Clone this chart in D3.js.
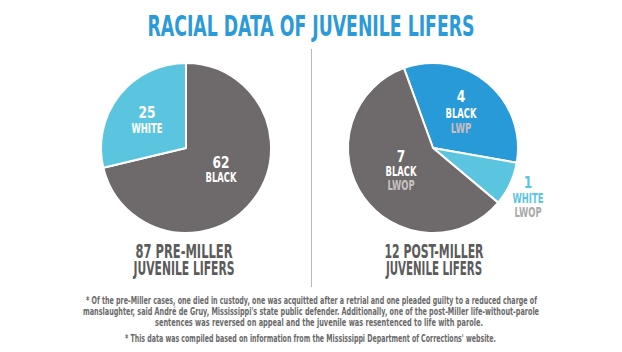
<!DOCTYPE html>
<html>
<head>
<meta charset="utf-8">
<script src="https://cdn.jsdelivr.net/npm/d3@7"></script>
<style>
  html, body { margin: 0; padding: 0; background: #fff; }
  svg { display: block; }
  text { font-family: "Liberation Sans Narrow", "DejaVu Sans Condensed", "Roboto Condensed", sans-serif; font-weight: bold; }
</style>
</head>
<body>
<svg id="chart" width="622" height="352"></svg>
<script>
const title = "RACIAL DATA OF JUVENILE LIFERS";

const preCategories = ["BLACK", "WHITE"];
const preValues = [62, 25];
const preSubLabels = ["", ""];

const postCategories = ["BLACK", "WHITE", "BLACK"];
const postValues = [4, 1, 7];
const postSubLabels = ["LWP", "LWOP", "LWOP"];

const panelLabels = [["87 PRE-MILLER", "JUVENILE LIFERS"], ["12 POST-MILLER", "JUVENILE LIFERS"]];

const footnotes = [
  "* Of the pre-Miller cases, one died in custody, one was acquitted after a retrial and one pleaded guilty to a reduced charge of",
  "manslaughter, said André de Gruy, Mississippi's state public defender. Additionally, one of the post-Miller life-without-parole",
  "sentences was reversed on appeal and the juvenile was resentenced to life with parole.",
  "* This data was compiled based on information from the Mississippi Department of Corrections' website."
];

const svg = d3.select("#chart");
const GRAY = "#6e696a", LIGHT = "#5bc5e0", BLUE = "#289ad7";

function fitText(x, y, str, size, fill, width, weight) {
  const t = svg.append("text")
    .attr("x", x).attr("y", y)
    .attr("text-anchor", "middle")
    .attr("font-size", size)
    .attr("fill", fill)
    .text(str);
  if (weight) t.attr("font-weight", weight);
  if (width) t.attr("textLength", width).attr("lengthAdjust", "spacingAndGlyphs");
  return t;
}

// Title
fitText(311, 36, title, 28, "#2b9ad8", 327);

// Divider
svg.append("line")
  .attr("x1", 311.5).attr("x2", 311.5).attr("y1", 49).attr("y2", 287)
  .attr("stroke", "#b8b8b8").attr("stroke-width", 1);

const R = 85;
const arc = d3.arc().innerRadius(0).outerRadius(R);

function drawPie(cx, cy, cats, vals, colors, startAngle, labels) {
  const pie = d3.pie().sort(null).value(d => d.v)
    .startAngle(startAngle).endAngle(startAngle + 2 * Math.PI);
  const data = cats.map((c, i) => ({ c, v: vals[i], i }));
  const g = svg.append("g").attr("transform", `translate(${cx},${cy})`);
  g.selectAll("path").data(pie(data)).join("path")
    .attr("d", arc)
    .attr("fill", d => colors[d.data.i])
    .attr("stroke", "#fff").attr("stroke-width", 2).attr("stroke-linejoin", "round");
  labels.forEach((L, i) => {
    const numStr = String(vals[i]);
    fitText(L.x, L.y[0], numStr, 16, L.numColor, numStr.length * 8.5);
    fitText(L.x, L.y[1], cats[i], 13.5, L.catColor, 31);
    if (L.sub) {
      fitText(L.x, L.y[2], L.sub, 13.5, L.subColor, L.sub.length * 6.8, "normal");
    }
  });
}

drawPie(186, 148, preCategories, preValues, [GRAY, LIGHT], 0, [
  { x: 221, y: [168, 182], numColor: "#fff", catColor: "#fff", sub: preSubLabels[0] },
  { x: 147, y: [118, 133], numColor: "#fff", catColor: "#fff", sub: preSubLabels[1] }
]);

drawPie(433, 148, postCategories, postValues, [BLUE, LIGHT, GRAY], -20 * Math.PI / 180, [
  { x: 461, y: [102, 118, 133], numColor: "#fff", catColor: "#fff", sub: postSubLabels[0], subColor: "#cdbcbc" },
  { x: 528, y: [188, 203, 217], numColor: LIGHT, catColor: LIGHT, sub: postSubLabels[1], subColor: "#a9a9a9" },
  { x: 401, y: [162, 176, 190], numColor: "#fff", catColor: "#fff", sub: postSubLabels[2], subColor: "#c6c2c2" }
]);

// Panel labels
[[184, 97, 101], [434, 99, 96]].forEach((p, i) => {
  [258, 275].forEach((y, j) => {
    fitText(p[0], y, panelLabels[i][j], 19, "#5b5b5b", p[1 + j]);
  });
});

// Footnotes
const fnPos = [[311.5, 304, 451], [311, 315, 456], [319, 326, 328], [310.5, 342, 371]];
footnotes.forEach((f, i) => {
  fitText(fnPos[i][0], fnPos[i][1], f, 10.5, "#6a6a6a", fnPos[i][2]);
});
</script>
</body>
</html>
